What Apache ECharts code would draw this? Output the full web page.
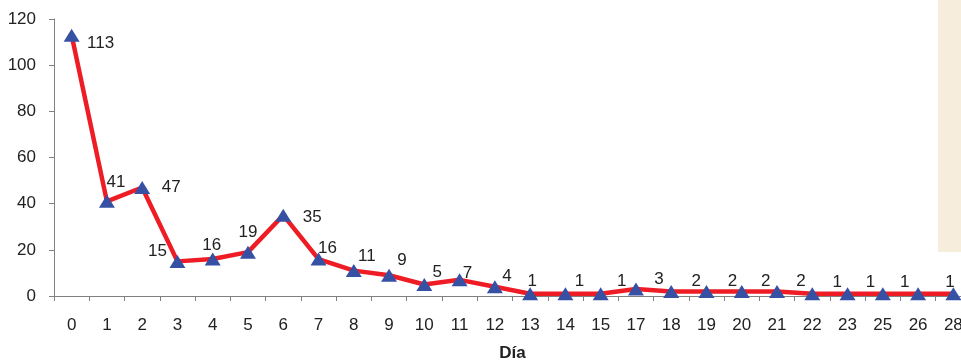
<!DOCTYPE html>
<html>
<head>
<meta charset="utf-8">
<script src="https://cdn.jsdelivr.net/npm/echarts@6/dist/echarts.min.js"></script>
<style>
html,body{margin:0;padding:0;background:#fff;}
#c{width:961px;height:360px;}
</style>
</head>
<body>
<div id="c"></div>
<script>
const categories = ['0','1','2','3','4','5','6','7','8','9','10','11','12','13','14','15','17','18','19','20','21','22','23','25','26','28'];
const values = [113,41,47,15,16,19,35,16,11,9,5,7,4,1,1,1,3,2,2,2,2,1,1,1,1,1];
const yTicks = {min:0, max:120, interval:20};
const xName = 'Día';
// label shift relative to each point (style only, px)
const labelShift = [[29,8],[9,-19],[29,0],[-20,-10],[-1,-14],[0,-20],[29,2],[9,-11],[13,-14],[13,-15],[13,-12],[8,-7],[12,-10],[2,-12],[14,-12],[21,-12],[23,-10],[25,-10],[26,-10],[24,-10],[24,-10],[25,-11],[23,-11],[22,-11],[32,-11],[25,-11]];

const chart = echarts.init(document.getElementById('c'), null, {renderer:'canvas'});
const font = 'Liberation Sans, Arial, sans-serif';
chart.setOption({
  animation:false,
  backgroundColor:'#fff',
  grid:{left:54, right:-10, top:19, bottom:64, containLabel:false, outerBoundsMode:'none'},
  xAxis:{
    type:'category', data:categories, boundaryGap:true,
    name:xName, nameLocation:'middle', nameGap:49,
    nameTextStyle:{fontFamily:font, fontSize:17, fontWeight:'bold', color:'#222'},
    axisLine:{lineStyle:{color:'#808080', width:1}},
    axisTick:{show:true, alignWithLabel:false, length:5, inside:false, lineStyle:{color:'#808080'}},
    axisLabel:{fontFamily:font, fontSize:17, color:'#222', margin:21, interval:0},
    splitLine:{show:false}
  },
  yAxis:{
    type:'value', min:yTicks.min, max:yTicks.max, interval:yTicks.interval,
    axisLine:{show:true, lineStyle:{color:'#808080', width:1}},
    axisTick:{show:true, length:5, lineStyle:{color:'#808080'}},
    axisLabel:{fontFamily:font, fontSize:17, color:'#222', margin:18},
    splitLine:{show:false}
  },
  graphic:[{
    type:'rect', left:938, top:0, z:-10,
    shape:{width:23, height:252},
    style:{fill:'#f6eddd'}
  }],
  series:[{
    type:'line',
    data: values.map((v,i)=>({value:v, label:{position:'inside', offset:labelShift[i]}})),
    lineStyle:{color:'#ee1c25', width:4.5},
    symbol:'triangle', symbolSize:[16,13],
    itemStyle:{color:'#3651a3'},
    z:3,
    label:{show:true, fontFamily:font, fontSize:17, color:'#222'}
  }]
});
</script>
</body>
</html>
